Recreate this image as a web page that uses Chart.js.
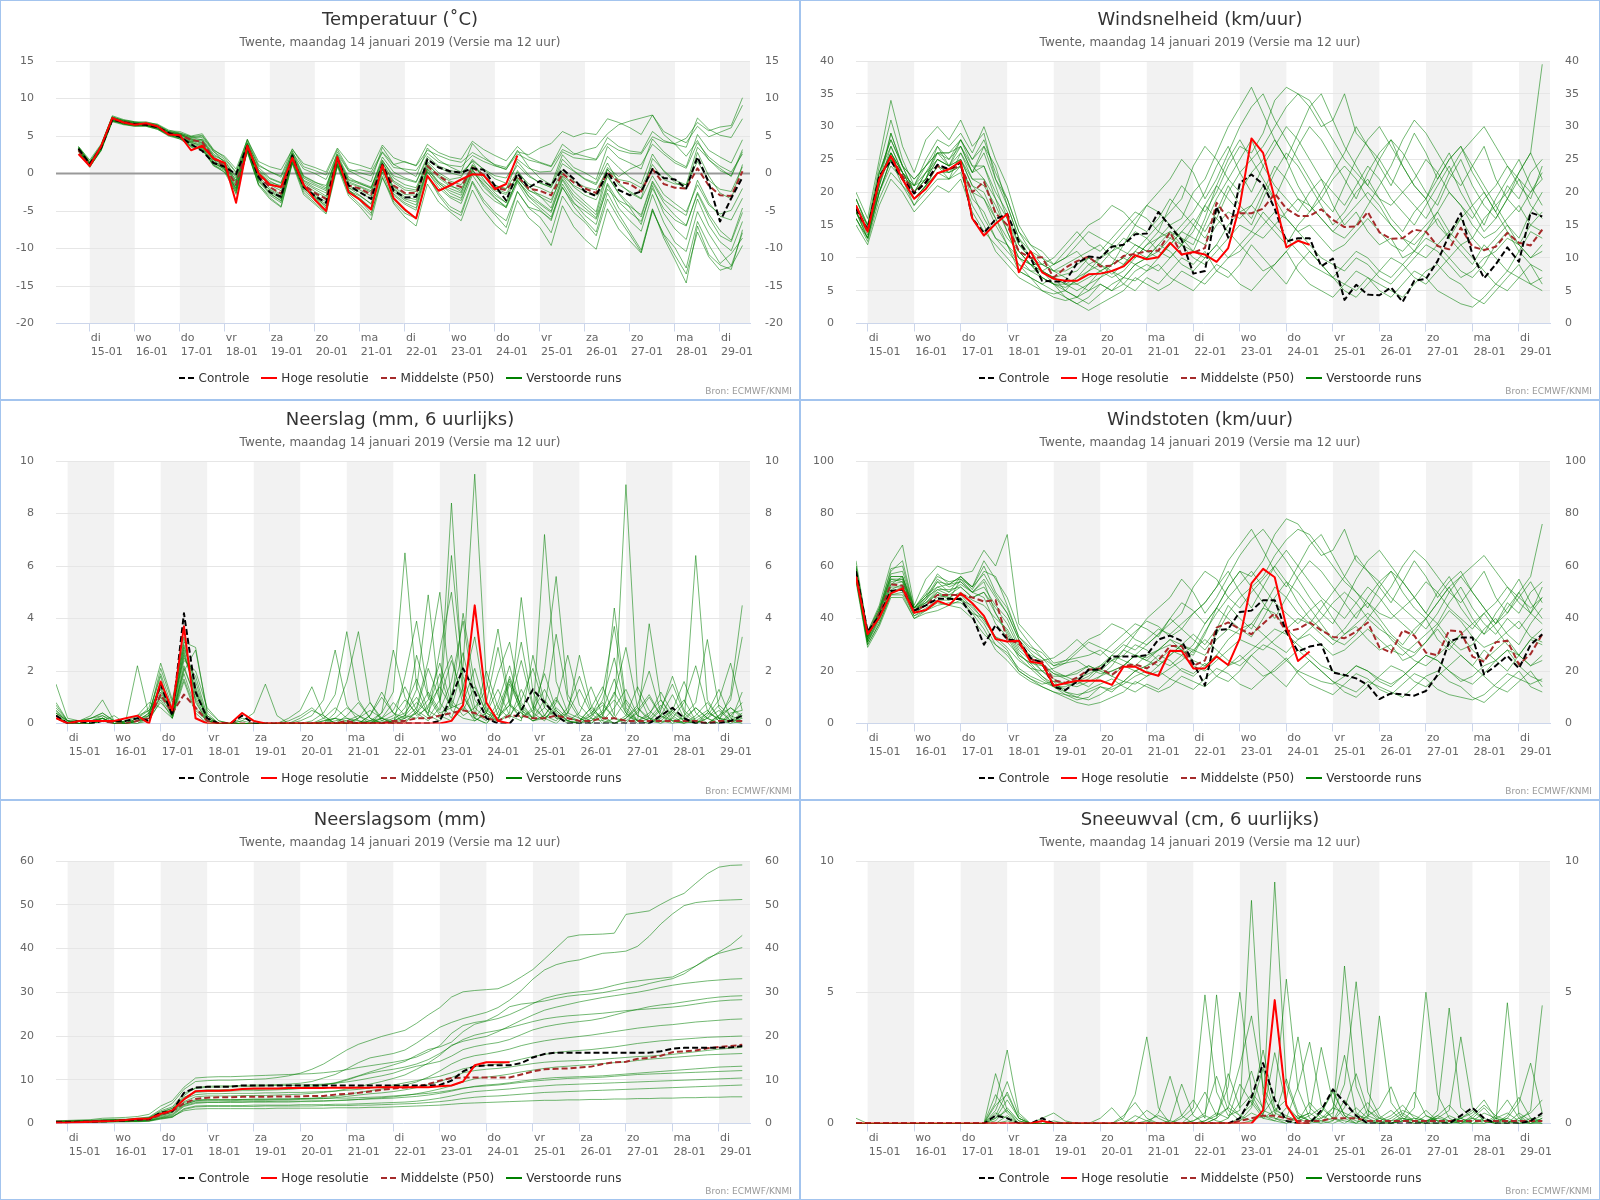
<!DOCTYPE html>
<html>
<head>
<meta charset="utf-8">
<title>Pluim Twente</title>
<script src="https://cdn.jsdelivr.net/npm/chart.js@4.4.1/dist/chart.umd.min.js"></script>
<style>
  body { margin: 0; background: #fff; font-family: "DejaVu Sans", Verdana, sans-serif; }
  #grid { position: relative; width: 1600px; height: 1200px; }
  .panel { position: absolute; width: 800px; height: 400px; box-sizing: border-box; border: 1px solid #a3c4ee; background: #fff; }
  .panel canvas { position: absolute; left: 0; top: 0; }
  .title { position: absolute; left: 0; right: 0; top: 7px; text-align: center; font-size: 18px; line-height: 21px; color: #333; }
  .sub { position: absolute; left: 0; right: 0; top: 34px; text-align: center; font-size: 12px; line-height: 14px; color: #666; }
  .legend { position: absolute; left: 0; right: 0; top: 370px; display: flex; justify-content: center; font-size: 12px; line-height: 14px; color: #333; }
  .legend span { display: inline-flex; align-items: center; margin: 0 6px; }
  .legend svg { margin-right: 4px; }
  .credit { position: absolute; right: 7px; top: 385px; font-size: 9px; line-height: 11px; color: #999; }
  #dbg { position: absolute; left: 0; top: 0; color: red; font-size: 14px; z-index: 9; }
</style>
</head>
<body>
<div id="grid"></div>
<div id="dbg"></div>
<script>
// forecast steps (hours after ma 14-01 12 uur)
const steps = [6,12,18,24,30,36,42,48,54,60,66,72,78,84,90,96,102,108,114,120,
  126,132,138,144,150,156,162,168,174,180,186,192,198,204,210,216,222,228,234,240,
  246,252,258,264,270,276,282,288,294,300,306,312,318,324,330,336,342,348,354,360];
const tickSteps = [12,36,60,84,108,132,156,180,204,228,252,276,300,324,348];
const dayNames = ['di','wo','do','vr','za','zo','ma','di','wo','do','vr','za','zo','ma','di'];
const dayDates = ['15-01','16-01','17-01','18-01','19-01','20-01','21-01','22-01','23-01','24-01','25-01','26-01','27-01','28-01','29-01'];
const bandStarts = [12,60,108,156,204,252,300,348];

// ---------- Temperatuur ----------
const tempControl = [3.3,1.3,3.4,7.2,6.8,6.6,6.5,6.2,5.4,4.9, 3.9,3.0,1.4,0.9,-0.1,3.7,-0.5,-2.5,-3.1,2.4,
  -1.8,-3.0,-3.9,2.0,-1.6,-2.5,-3.4,1.2,-2.3,-3.2, -3.1,1.9,0.8,0.3,0.1,0.7,0.5,-1.6,-3.6,0.0,
  -1.9,-1.0,-1.6,0.6,-0.7,-2.4,-3.0,0.2,-2.2,-2.9, -2.4,0.6,-0.6,-0.8,-2.0,2.2,-1.2,-6.4,-3.3,-0.5];
const tempHres = [2.6,1.0,3.6,7.4,6.8,6.5,6.7,6.3,5.2,5.1, 3.1,3.7,2.0,1.4,-3.9,3.7,0,-1.5,-1.8,2.1,
  -1.5,-3.5,-5.0,2.2,-2.5,-3.5,-4.8,1.1,-3.3,-4.8, -6.0,-0.3,-2.3,-1.6,-0.8,-0.1,-0.2,-2.1,-1.4,2.4];
const tempMedian = [3.1,1.2,3.5,7.2,6.9,6.6,6.5,6.2,5.4,5.1, 4.5,4.2,2.0,0.9,-1.5,3.6,-0.3,-1.8,-2.7,2.0,
  -1.5,-2.6,-3.4,1.9,-1.6,-2.0,-2.8,1.1,-1.6,-2.6, -2.6,1.0,-0.3,-1.3,-1.8,0.8,-0.2,-1.9,-2.2,-0.3,
  -2.0,-2.3,-2.9,0.0,-1.2,-2.0,-2.6,0.1,-1.1,-1.4, -2.4,0.6,-1.4,-1.9,-2.0,0.7,-1.6,-2.9,-3.0,0.3];
const tempMembers = [
  [3.6,1.8,3.9,7.6,7.0,6.8,6.9,6.5,5.7,5.6,5.0,5.3,3.2,2.1, 0.2,4.1,1.0,0.3,-0.5,2.8,0.6,0.0,-0.8,2.6,0.3,0.5,0.2,2.9,1.2,1.6,
   1.0,3.1,2.4,1.8,1.5,2.8,2.0,1.2,0.8,2.9,2.5,3.4,4.0,5.6,4.9, 5.4,5.2,7.3,6.8,6.1,5.2,7.8,5.6,4.8,4.1,6.3,4.9,5.5,6.1,9.1],
  [3.0,0.8,3.2,7.0,6.6,6.4,6.3,5.9,5.0,4.6,3.6,3.4,1.2,0.1, -2.6,3.0,-1.4,-3.2,-4.4,1.6,-2.5,-3.9,-5.2,1.2,-2.7,-4.1,-5.6,0.2,-3.8,-5.3,
   -6.0,-0.5,-2.6,-4.4,-5.2,-1.0,-3.5,-5.2,-6.3,-2.4,-4.6,-5.8,-7.9,-3.0,-5.2, -6.5,-8.3,-3.4,-6.0,-8.2,-10.5,-5.0,-8.1,-9.9,-12.6,-6.4,-9.5,-12.0,-10.7,-8.6],
  [3.4,1.1,3.6,7.3,6.9,6.5,6.6,6.3,5.5,5.3,4.6,4.0,1.8,1.3, -1.0,3.9,0.2,-1.2,-1.6,2.5,-0.9,-1.6,-2.3,2.4,-0.8,-1.2,-1.8,1.8,-0.6,-1.5,
   -1.9,1.6,0.1,-0.8,-0.5,1.9,0.5,-0.7,-1.3,1.1,-0.4,-1.2,-1.9,1.3,0.3, -0.8,-1.5,1.4,-1.2,-2.6,-3.4,-0.3,-2.8,-4.0,-5.1,-1.5,-4.2,-5.4,-4.9,-2.0],
  [2.9,0.9,3.0,6.9,6.5,6.3,6.4,6.0,5.1,4.8,4.2,4.6,2.6,1.6, -0.6,4.4,0.8,-0.6,-1.2,3.0,-0.3,-1.1,-1.9,2.9,0.4,-0.4,-1.1,3.5,1.2,0.4,
   -0.4,3.4,1.8,0.9,0.2,4.0,2.3,1.1,0.5,3.1,0.9,-0.6,-1.5,2.5,0.8, 0.1,-0.8,3.6,2.1,1.4,0.6,4.6,2.9,1.7,0.9,5.2,3.1,2.2,1.4,4.5],
  [3.2,1.3,3.3,7.1,6.7,6.7,6.4,6.1,5.3,4.9,3.5,3.2,1.0,0.2, -2.0,3.2,-1.0,-2.6,-3.7,1.8,-2.0,-3.3,-4.6,1.2,-2.4,-3.3,-4.6,0.7,-2.9,-4.1,
   -4.9,0.2,-1.5,-3.0,-3.6,0.4,-1.5,-3.2,-4.6,-1.2,-3.6,-4.8,-6.3,-1.8,-4.4, -6.2,-7.8,-2.6,-5.4,-7.8,-10.2,-4.7,-8.6,-11.5,-14.6,-7.0,-10.8,-12.2,-12.8,-7.5],
  [3.5,1.5,3.8,7.5,7.1,6.9,6.8,6.6,5.8,5.4,4.9,4.8,2.9,1.9, 0.1,4.6,1.2,0.2,-0.3,3.3,0.9,0.4,-0.2,3.2,0.6,0.1,-0.3,2.8,0.8,0.6,
   0.4,2.7,1.5,1.1,0.9,2.4,1.6,1.0,0.6,2.6,1.8,1.4,0.9,3.2,2.5, 3.1,3.5,5.3,6.5,7.0,7.4,7.8,5.2,3.9,2.3,4.4,1.8,0.7,-0.4,2.9],
  [3.0,1.0,3.4,7.4,6.8,6.5,6.7,6.3,5.2,5.0,4.0,3.5,1.5,0.5, -1.9,3.4,-0.8,-2.1,-3.0,2.2,-1.6,-2.8,-3.8,1.6,-1.9,-2.9,-4.1,0.6,-2.4,-3.6,
   -4.2,0.3,-1.9,-3.2,-4.0,-0.2,-2.4,-3.7,-4.5,-0.6,-2.2,-3.1,-3.9,0.2,-1.8, -2.9,-3.5,-0.4,-2.6,-4.1,-5.8,-1.2,-3.9,-5.6,-6.9,-2.7,-5.8,-8.3,-9.1,-5.2],
  [3.3,1.2,3.5,7.2,6.9,6.6,6.5,6.2,5.4,5.2,4.4,4.3,2.2,1.1, -1.3,3.7,-0.1,-1.5,-2.3,2.1,-1.2,-2.1,-3.0,2.0,-1.3,-1.8,-2.5,1.4,-1.2,-2.2,
   -2.4,1.2,-0.2,-1.0,-1.5,1.1,-0.1,-1.6,-2.0,0.2,-1.4,-1.9,-2.6,0.5,-1.0, -1.8,-2.2,0.5,-0.8,-1.1,-1.9,1.2,-0.8,-1.4,-1.5,1.6,-0.9,-2.1,-2.4,0.9],
  [3.1,1.1,3.4,7.0,6.8,6.5,6.4,6.1,5.3,4.8,3.8,3.1,1.3,0.6, -1.7,3.3,-0.6,-2.2,-3.3,1.5,-1.9,-3.1,-4.4,1.0,-2.1,-3.6,-5.3,-0.6,-3.5,-5.0,
   -5.9,-0.3,-2.9,-4.8,-5.6,-1.2,-3.9,-5.5,-7.2,-2.4,-4.5,-5.0,-6.1,-1.4,-3.8, -5.6,-6.8,-1.5,-4.6,-6.3,-7.7,-2.8,-6.5,-9.2,-10.4,-5.1,-8.0,-10.3,-12.3,-7.9],
  [3.6,1.6,3.7,7.7,7.2,6.9,6.6,6.4,5.6,5.3,4.7,5.0,3.0,1.4, -0.9,4.1,0.4,-1.0,-1.8,2.6,-0.6,-1.4,-2.1,2.5,-0.5,-1.3,-2.0,2.2,0.2,-0.6,
   -1.1,2.3,1.0,0.4,0.1,1.6,-0.8,-2.6,-3.9,0.4,-1.7,-3.0,-4.6,-0.4,-2.4, -3.8,-5.1,0.6,-1.5,-2.4,-3.3,2.0,0.4,-0.9,-1.5,3.5,1.9,0.4,-0.3,3.2],
  [3.2,1.0,3.1,7.3,6.6,6.4,6.3,5.9,5.2,4.6,4.1,3.8,1.8,0.6, -2.3,3.0,-1.1,-2.7,-3.6,1.9,-1.7,-3.0,-4.1,1.7,-1.9,-2.5,-3.4,0.9,-2.0,-3.1,
   -3.5,0.6,-1.3,-2.3,-2.9,0.4,-1.0,-2.3,-2.8,-0.9,-3.1,-4.5,-5.8,-1.9,-4.0, -5.0,-6.1,-2.1,-3.6,-4.4,-5.5,-1.0,-3.5,-4.6,-5.6,-0.9,-3.9,-5.7,-6.2,-3.3],
  [3.4,1.4,3.6,7.4,7.0,6.7,6.6,6.3,5.6,5.2,4.8,4.5,2.4,1.7, -0.4,3.9,0.5,-0.7,-1.3,2.7,-0.4,-1.2,-1.6,2.2,-0.9,-1.4,-1.9,1.7,-0.3,-0.8,
   -1.2,2.0,0.8,0.1,-0.3,1.7,0.6,-0.3,-0.6,1.9,0.7,0.2,0.3,2.9,2.1, 1.9,1.8,4.0,3.1,2.7,2.6,4.9,4.2,4.0,4.7,6.8,5.7,6.2,6.4,10.1],
  [3.2,1.2,3.3,7.1,6.8,6.6,6.4,6.1,5.3,5.0,4.3,3.9,1.6,0.8, -2.8,3.1,-1.6,-3.4,-4.5,1.3,-2.8,-4.1,-5.4,0.9,-3.0,-4.4,-6.2,-0.4,-4.0,-5.8,
   -7.0,-1.4,-3.8,-5.1,-6.3,-2.2,-4.9,-6.8,-8.1,-3.6,-5.9,-7.2,-9.6,-4.3,-7.1, -8.8,-10.1,-4.7,-7.4,-9.0,-10.6,-4.8,-8.2,-10.9,-13.4,-7.8,-11.1,-12.9,-12.4,-9.6],
  [3.5,1.4,3.7,7.5,7.1,6.8,6.7,6.5,5.6,5.4,4.9,5.1,3.1,2.3, 0.6,4.5,1.6,0.9,0.5,3.2,1.3,0.8,0.2,3.4,1.5,1.1,0.6,3.8,2.1,1.5,
   1.1,3.9,2.8,2.2,1.9,4.3,3.2,2.4,1.7,3.6,2.2,1.5,1.0,3.9,2.7, 2.3,1.9,4.8,3.6,3.0,2.8,5.6,4.4,3.9,3.5,7.4,5.9,5.1,4.8,7.3],
  [3.0,0.9,3.1,7.0,6.6,6.3,6.4,6.0,5.1,4.7,3.7,3.3,1.1,0.4, -2.4,2.8,-1.5,-2.9,-3.9,1.4,-2.2,-3.6,-4.8,1.3,-2.2,-3.4,-4.7,0.5,-2.7,-3.9,
   -4.6,0.8,-1.1,-2.0,-2.6,1.2,-0.4,-1.6,-2.1,1.6,-0.2,-1.3,-1.8,1.9,0.4, -0.7,-1.3,2.3,0.8,-0.5,-1.4,2.6,0.3,-1.2,-2.0,2.8,-0.3,-2.6,-3.4,1.2],
  [3.3,1.3,3.5,7.3,6.9,6.7,6.6,6.2,5.4,5.2,4.6,4.4,2.3,1.2, -1.2,3.8,0.1,-1.3,-2.0,2.3,-1.0,-1.9,-2.6,2.1,-1.1,-1.7,-2.3,1.5,-1.0,-1.9,
   -2.2,1.4,-0.4,-1.5,-2.4,0.6,-1.8,-3.3,-4.4,-0.8,-3.0,-4.1,-5.2,-0.9,-3.3, -4.6,-5.9,-1.3,-3.8,-5.2,-6.4,-2.0,-4.7,-6.2,-7.0,-2.5,-5.4,-7.6,-8.9,-4.6],
  [3.4,1.2,3.6,7.2,7.0,6.6,6.5,6.3,5.5,5.1,4.5,4.1,1.9,1.0, -1.6,3.5,-0.4,-1.9,-2.8,1.9,-1.4,-2.4,-3.2,1.8,-1.7,-2.2,-3.0,1.0,-1.8,-2.8,
   -2.9,0.9,-0.6,-1.7,-2.1,0.9,-0.3,-2.0,-2.6,-0.5,-2.3,-2.8,-3.5,-0.3,-1.6, -2.4,-2.9,0.8,-0.4,0.6,1.2,3.9,2.6,1.4,0.7,4.1,2.2,1.0,0.2,2.6],
  [3.1,1.0,3.3,7.1,6.7,6.5,6.5,6.1,5.3,4.9,4.2,3.6,1.4,0.7, -2.1,3.3,-0.9,-2.4,-3.4,2.0,-1.9,-3.2,-4.3,1.4,-2.3,-3.0,-4.0,0.8,-2.1,-3.4,
   -3.8,0.5,-1.2,-2.6,-3.3,0.1,-1.3,-2.9,-3.9,-1.0,-2.6,-3.9,-5.0,-0.7,-2.9, -4.2,-5.5,-0.2,-2.7,-4.6,-6.8,-1.6,-5.3,-7.4,-8.8,-3.4,-6.9,-9.1,-10.3,-6.4]
];

// ---------- Windsnelheid ----------
const windControl = [17.5,14.3,22.5,24.8,22,19.8,21.5,24.2,23.5,24.5, 16,13.8,15.9,16.7,12.5,10,6.5,6.4,6.4,9.2,
  10.2,10,11.7,12,13.6,13.7,17,14.8,12.7,7.6, 8,17.8,13.1,21.4,22.7,21.2,17.5,12.5,13,13,
  8.7,9.9,3.6,5.9,4.4,4.3,5.5,3.3,6.5,6.8, 9.5,13.5,16.8,10.5,6.9,9,11.6,9.4,16.9,16.3];
const windHres = [18,14,22,25.5,22,19,20.5,22.9,23.5,24.7, 16,13.4,15.2,16.7,7.8,11.0,7.8,6.8,6.5,6.5,
  7.5,7.6,8.0,8.7,10.4,9.8,10.1,12.3,10.5,10.9, 10.5,9.4,11.5,18,28.2,26,19,11.6,12.6,12.0];
const windMedian = [17.5,14,22,25.5,22.5,20,21.5,24,23.5,24, 20,21.6,16.8,15,11,10,10.1,7,8.5,9.5,
  10.2,8.7,8.8,10.3,10.6,11,11.1,13.9,10.5,10.8, 11.5,18.4,16,16.8,16.8,17.5,19.8,17.5,16.4,16.4,
  17.4,15.8,14.7,14.8,17,13.9,12.9,13,14.3,14, 11.8,11.3,14.6,11.7,11.2,11.7,13.8,12.3,11.9,14.3];
const windMembers = [
  [17,13.5,21,27,23,20,22,25,24,26,22,21,18,14, 10,8,7,6,5.5,6.5,8,9,7.5,9,11,10,12,14,12,11,
   15,19,22,25,28,24,21,19,17,20,22,18,15,17,14, 12,13,10,11,14,16,13,11,9,12,10,8,11,14,13],
  [19,15,24,31,25,21,25,28,27,29,26,30,25,21, 15,12,10,8,7,6,5,7,9,12,15,18,20,22,25,23,
   19,22,26,30,33,35,31,28,25,22,19,17,21,25,28, 30,27,24,21,19,23,26,22,18,15,19,22,25,21,18],
  [16,12.5,19,23,21,18,20,22,22,23,18,15,11,9, 7,6,5,4.5,5,4,3,4.5,6,7,6.5,8,9,7,6,5,
   7,9,8,6,5,7,9,11,8,6,5,4,6,8,7, 5,4,6,8,7,5,4,3,2.5,4,6,8,7,6,7],
  [18,14,23,28,24,22,24,27,25,28,24,24,20,17, 12,10,9,10,12,14,12,11,13,15,17,16,14,18,21,19,
   17,20,24,27,26,29,34,36,35,33,30,31,35,29,27, 24,21,25,29,26,22,25,27,23,20,17,21,19,23,25],
  [17,14,20,25,22,19,21,23,23,24,19,17,13,11, 9,8,8,9,10,11,9,8,9,10,12,11,13,14,13,11,
   10,12,15,17,18,16,14,12,15,17,19,22,24,22,19, 17,15,13,12,14,17,20,18,15,13,14,16,18,15,14],
  [20,16,25,34,27,23,28,30,28,31,27,29,22,19, 14,11,9,8,9,10,11,12,10,9,11,13,15,17,19,24,
   27,25,22,20,23,25,28,25,21,18,16,14,13,15,18, 21,24,28,31,29,26,23,21,24,27,22,19,23,26,39.5],
  [15,12,18,22,20,17,19,21,20,22,17,14,12,10, 8,7,6,7,5,4,6,7,8,6,5,7,6,8,10,9,
   11,8,7,9,12,10,8,6,9,11,9,7,5,4,6, 8,10,9,7,6,8,10,12,10,8,6,5,7,9,6],
  [18,15,22,26,23,20,23,25,24,25,21,19,16,13, 11,9,8,7,7.5,8,10,9,11,12,14,13,11,10,12,14,
   18,21,19,17,15,19,23,26,24,21,18,15,17,20,22, 19,16,14,17,19,15,13,16,18,20,17,14,12,15,17],
  [16,13,21,29,24,20,22,26,24,27,23,27,24,18, 13,11,10,9,11,13,15,16,18,17,15,14,16,19,17,15,
   13,16,20,23,25,27,30,33,35,34,31,28,25,23,21, 19,18,20,22,25,23,20,18,16,19,21,24,22,20,22],
  [19,14.5,22,26,22,21,23,24,23,24,20,16,13,12, 10,9,9,8,8,9,10,9,8,7,9,10,12,11,9,8,
   10,12,10,11,13,15,17,16,14,12,10,9,8,10,9, 7,6,8,10,12,11,9,7,8,10,11,13,12,10,11],
  [17,13,20,24,22,19,21,24,22,26,23,24,19,16, 12,10,8,6,4,3,4,6,5,7,9,8,10,12,14,16,
   14,17,21,18,16,20,24,22,19,17,20,23,26,30,27, 25,22,20,18,16,19,23,26,28,30,27,24,21,19,24],
  [18,14,23,27,23,21,24,26,26,27,24,22,17,15, 11,9,7,6,6,7,8,10,11,13,12,11,10,12,14,13,
   12,15,17,16,18,21,19,16,14,15,13,11,12,14,16, 14,12,11,13,15,17,14,12,13,16,18,15,13,17,20],
  [18,14,22,29,24,20,23,26,25,27,23,26,21,16, 11,9,8,7,6,5,6,8,7,8,10,12,14,13,15,17,
   20,24,27,23,20,24,27,30,28,25,22,20,18,21,24, 22,19,17,15,18,21,24,20,17,14,16,19,22,18,16],
  [16,13,20,25,22,18,21,24,23,25,21,20,16,12, 9,7,5,4,3.5,4,5,6,5,6,8,9,8,10,12,15,
   18,16,14,12,14,17,15,13,11,9,8,7,9,11,10, 8,7,9,11,13,12,10,8,7,9,12,14,11,9,8],
  [17,14,21,26,23,21,22,27,24,28,25,28,23,19, 14,12,11,9,10,12,14,13,12,14,16,18,17,15,16,20,
   22,26,30,33,36,32,28,25,29,33,35,31,27,24,21, 25,28,26,23,20,18,22,25,21,18,16,19,17,20,23],
  [19,15,23,28,24,22,24,26,26,28,25,27,22,18, 13,10,8,7,6,6,7,8,9,10,9,10,11,13,12,10,
   9,11,13,15,14,13,15,17,19,18,16,14,16,18,20, 18,15,13,11,10,12,14,16,13,11,13,15,12,10,12],
  [18,14,22,26,23,20,22,25,24,25,22,22,19,14, 10,9,7,6,5,7,9,10,12,11,10,12,13,15,13,12,
   16,21,25,28,25,22,19,23,27,30,28,25,22,19,23, 26,28,24,21,19,22,25,27,24,21,18,20,23,26,22],
  [17,13,20,25,21,19,21,23,22,24,20,19,15,12, 8,7,6,5,4,3,2,3,4,5,7,6,5,6,8,7,
   6,8,10,12,10,8,9,11,13,11,9,7,6,5,7, 6,5,4,6,8,9,7,6,4,3,5,7,9,6,5]
];

// ---------- Neerslag (6 uurlijks) ----------
const rainControl = [0.3,0,0.1,0,0.1,0.1,0.1,0.2,0.1,1.5, 0.3,4.2,1.2,0.2,0,0,0.3,0,0,0,
  0,0,0,0,0,0,0,0,0,0, 0,0,0,0.1,1.0,2.1,1.2,0.2,0,0,
  0.5,1.3,0.8,0.3,0,0,0,0,0,0, 0,0,0.3,0.6,0.2,0,0,0,0.1,0.3];
const rainHres = [0.2,0,0.1,0.1,0.1,0.1,0.2,0.3,0,1.6, 0.5,3.7,0.2,0,0,0,0.4,0.1,0,0,
  0,0,0,0,0,0,0,0,0,0, 0,0,0,0,0.1,0.7,4.5,0.8,0.1,0];
const rainMedian = [0.3,0,0,0.1,0.1,0,0,0.1,0.2,1.1, 0.4,1.1,0.6,0.1,0,0,0,0,0,0,
  0,0,0,0,0,0.1,0,0,0,0.1, 0.1,0.2,0.2,0.3,0.4,0.5,0.4,0.2,0.1,0.3,
  0.3,0.2,0.2,0.3,0.2,0.1,0.1,0.2,0.2,0.1, 0.1,0.1,0.1,0.1,0.1,0.1,0,0.1,0.1,0.1];
const rainMembers = [
  [1.5,0.2,0.1,0.3,0.9,0.1,0,0.2,0.5,1.2,0.4,3.3,0.8,0.1, 0,0,0.1,0,0,0,0,0,0,0.1,0.2,0,0,0.3,1.2,0.4,
   0,0.5,2.1,0.9,8.4,1.3,0.2,0,0.4,1.6,0.7,0.2,0.9,0.3,0, 0.1,0.4,0.8,0.2,0,0.5,1.1,0.3,0,0.1,0.6,0.2,0,0.3,0.8],
  [0.3,0,0,0.1,0.2,0,0.1,0,0.3,2.1,0.8,2.9,1.6,0.2, 0,0,0,0,0,0,0.2,0.5,1.4,0.3,0,0,0.2,0.8,0.1,0,
   1.8,3.9,1.1,0.4,0.6,2.2,9.5,1.6,0.3,0.7,2.4,0.6,0.2,0,0.4, 1.3,0.4,0,0.2,0.9,0.3,0.1,0.6,1.5,0.4,0,0.2,0.7,0.3,0.1],
  [0.6,0.1,0,0,0.1,0.3,0,0.1,0.2,1.4,0.3,2.4,2.0,0.6, 0.1,0,0,0,0,0,0,0,0.1,0.4,1.1,3.5,0.9,0.2,0,0.1,
   0.3,0.8,0.4,1.5,2.6,0.7,0.1,0.4,1.9,3.1,0.8,0.2,7.2,1.6,0.4, 0.2,0,0.3,1.2,0.4,0.1,0,0.2,0.5,0.1,0,0.3,0.9,2.3,0.5],
  [0.2,0,0.1,0.2,0.4,0.1,0,0.3,0.8,0.6,0.2,1.6,0.4,0, 0,0,0.1,0.4,1.5,0.3,0,0,0,0,0.2,0.6,0.3,0,0.4,1.2,
   6.5,1.4,0.3,2.8,5.0,1.1,0.2,0,0.6,1.7,0.4,0.1,0.3,1.0,0.2, 0.1,0.6,1.4,0.3,9.1,1.2,0.2,0,0.4,0.9,0.1,0,0.2,0.6,0.3],
  [0.4,0.1,0,0,0.2,0,0.1,2.2,0.3,1.0,0.6,2.7,1.1,0.3, 0,0,0,0,0,0,0,0.1,0.3,0.9,2.8,0.7,0.1,0,0.2,0.8,
   0.3,1.3,4.9,0.8,0.2,1.4,3.3,0.6,0.1,0.4,4.8,1.2,0.3,0.1,0.6, 1.8,0.5,0.2,4.4,0.8,0.1,0,0.3,1.1,0.2,0,0.4,1.3,0.2,0],
  [0.3,0,0,0.1,0.1,0,0,0.1,0.4,1.8,0.2,1.9,0.6,0.1, 0,0,0,0,0,0,0,0,0,0,0.4,1.6,3.5,0.8,0.2,0,
   0.1,0.4,1.2,0.5,1.6,3.9,0.9,0.3,0.1,1.8,0.6,0.2,2.1,5.6,1.1, 0.3,0.1,0.5,1.7,0.4,0,0.2,0.7,0.1,0,6.4,0.9,0.2,0.1,0.4],
  [0.8,0.1,0.1,0.2,0.3,0.1,0,0.2,0.6,2.3,0.9,3.1,2.9,0.4, 0,0,0,0,0,0,0,0,0,0.1,0.2,0.1,0,0.3,1.0,0.4,
   0.2,2.6,1.0,0.3,0.1,0.6,0.2,0.8,2.9,0.7,0.2,0.5,1.3,0.4,0.1, 0,0.3,1.2,3.7,0.6,0.1,0.4,0.9,0.3,0,0.2,0.5,0.1,1.1,4.5],
  [0.5,0,0,0.1,0.2,0,0,0.1,0.2,1.1,0.4,2.6,1.3,0.1, 0,0,0,0,0,0,0,0,0,0.2,0.6,0.2,0,0,0.1,0.3,
   0.9,0.4,0.1,0.6,6.4,1.8,0.4,0.1,0.8,2.2,0.5,0.1,0.3,0.9,0.3, 0.1,0.6,0.2,0,0.3,1.4,0.5,0.1,0,0.3,0.8,3.2,0.6,0.1,0.2],
  [0.2,0,0,0,0.1,0,0,0,0.1,0.9,0.2,2.2,0.9,0, 0,0,0,0,0,0,0,0,0,0,0,0.1,0.3,0.1,0,0.2,
   0.4,1.0,0.3,0.1,0.8,4.2,1.5,0.4,0.2,0.9,3.1,0.7,0.2,0.5,0.1, 0,0.2,0.9,2.5,0.5,0.1,3.8,0.9,0.2,0,0.1,0.4,0.2,0,0.1],
  [0.4,0.1,0,0,0.1,0.1,0,0.1,0.3,1.6,0.5,3.0,1.4,0.2, 0,0,0,0,0,0,0,0.2,0.5,0.3,0,0,0,0.1,0.4,2.8,
   1.0,0.3,0.6,1.9,0.5,0.2,0.1,0.4,1.3,0.3,0.1,2.6,0.8,0.2,0.4, 2.6,0.7,0.1,0,0.2,0.6,0.2,0.1,0.5,1.6,0.4,0,0.3,0.9,3.3],
  [0.7,0.1,0.1,0.1,0.3,0,0.1,0.3,0.5,1.3,0.3,2.0,2.8,0.5, 0.1,0,0,0,0,0,0,0,0,0,0,0,0.2,0.5,0.2,0,
   0.2,0.6,2.4,5.0,0.9,0.3,0.6,0.2,0.1,1.5,0.5,0.2,0.6,3.4,0.9, 0.2,0,0.4,1.1,2.9,0.6,0.1,0,0.2,0.8,2.2,0.5,0.1,0,0.3],
  [0.3,0,0,0,0.2,0,0,0,0.2,0.8,0.3,1.7,0.5,0.1, 0,0,0,0,0,0,0,0,0,0,0.1,0.2,0.1,0,0,0.1,
   0.3,0.2,0.7,1.4,0.6,0.8,2.1,0.5,0.2,0.7,0.4,0.1,0.2,0.6,0.2, 0.1,0.3,0.7,0.2,0.1,0.4,1.0,0.3,0.1,0.2,0.6,0.2,0,0.4,0.5],
  [0.5,0.1,0,0.2,0.4,0.1,0,0.1,0.4,1.9,0.6,2.5,1.8,0.3, 0,0,0.2,0.1,0,0,0,0,0,0,0,0.3,0.8,0.2,0,0.1,
   0.6,1.7,0.5,0.2,1.1,2.7,0.6,1.3,3.6,0.8,0.2,0.6,1.9,0.5,0.1, 0.4,1.4,0.3,0,0.2,0.7,2.0,0.4,0.1,0,0.3,0.8,0.2,0.1,1.2],
  [0.2,0,0,0,0.1,0,0,0.1,0.2,1.0,0.3,2.1,1.0,0.1, 0,0,0,0,0,0,0,0,0,0,0,0,0,0.1,0.2,0.1,
   0.2,0.4,0.9,2.3,0.7,0.5,1.4,0.4,0.1,0.3,0.9,2.1,0.6,0.2,0.1, 0,0.1,0.4,0.9,0.3,0.1,0.3,1.2,0.4,0.1,0,0.2,0.5,0.1,0],
  [0.4,0,0.1,0.1,0.2,0,0,0.2,0.3,1.5,0.4,2.8,1.2,0.2, 0,0,0,0,0,0,0.1,0.3,0.6,0.2,0,0,0,0,0.2,0.5,
   1.4,0.5,0.2,0.9,2.4,1.0,0.3,2.0,0.6,0.2,1.3,0.4,0.1,0.8,2.6, 0.7,0.2,0.1,0.6,1.3,0.3,0.1,0.5,1.8,0.5,0.1,0,0.3,0.6,0.2]
];

// ---------- Windstoten ----------
const gustControl = [58,35,41,50.5,51,43,45,47.5,47.5,47.4, 41,30,37.5,32,31.5,25,23,14,12.7,16,
  20.5,20.5,25.5,25.5,25.5,26,32,33.5,31.5,23, 14.5,35.5,36,42.5,43,47,47,35,27.4,29.3,
  30.2,19.4,18.5,17.2,14.7,9.3,11.5,11.1,10.6,12.4, 18.5,31.2,32.8,32.8,18.7,22,25.8,21,30,34];
const gustHres = [56,34,40.3,49.6,51.5,42.2,43.2,46.7,45.1,49.6, 45.8,41,32.2,31.2,31.5,23.5,22.9,14.4,15.3,16.3,
  16.3,16.4,14.7,21.6,21.7,19.4,18.2,27.7,27.6,21, 21,25.5,22.3,32.4,53.4,58.9,55.7,36.9,23.8,27.4];
const gustMedian = [57,34,42,53,52.5,43,45,49,49,49, 48,46.5,47,32,30.5,24.5,23.5,16.5,15.5,17.5,
  20.5,21,18.5,22,22.5,21,24,29.5,29.5,22, 24,36.5,38.5,36,34,38,42,35,36,38.5,
  35.5,33,32.5,35,38.5,29,27,35.5,33.5,27, 26,35.5,35,25.5,23.5,31,31.5,22.5,26.5,34];
const gustMembers = [
  [57,32,40,53,56,43,46,50,48,50,47,45,40,36, 28,24,20,16,15,17,19,21,18,22,26,24,28,32,30,27,
   35,42,48,53,58,52,46,42,38,43,47,40,34,37,32, 28,30,24,26,31,36,30,26,22,28,24,20,26,32,30],
  [60,34,44,58,62,44,50,56,54,55,52,62,55,48, 36,30,25,20,18,16,14,18,22,28,34,40,44,48,55,50,
   42,48,56,64,70,74,68,62,55,48,42,38,46,55,62, 66,60,54,48,42,50,56,48,40,34,42,48,55,46,40],
  [55,30,38,49,50,41,43,45,46,46,42,36,28,24, 19,16,14,12,11,10,9,11,14,16,15,18,20,17,15,13,
   17,21,19,15,13,17,21,25,19,15,13,11,15,19,17, 13,11,15,19,17,13,11,10,9,11,15,19,17,15,17],
  [58,33,42,55,54,43,47,52,50,53,50,52,45,40, 30,26,24,25,28,32,28,26,30,34,38,36,33,40,46,43,
   38,44,52,58,56,62,72,78,76,70,64,66,74,62,58, 52,46,54,62,56,48,54,58,50,44,38,46,42,50,54],
  [56,31,41,51,53,42,45,48,49,49,44,40,33,29, 24,21,20,21,23,24,21,19,20,22,26,25,28,30,28,24,
   22,26,32,36,38,34,30,27,32,36,40,46,50,46,40, 36,33,29,27,31,37,43,39,33,29,31,35,39,33,31],
  [62,35,45,61,68,45,55,60,58,57,58,66,60,72, 38,33,28,23,24,25,26,28,24,22,26,30,34,38,42,52,
   58,55,48,44,50,55,60,54,46,40,36,32,30,34,40, 46,52,60,66,62,56,50,46,52,58,48,42,50,56,76],
  [54,29,37,48,48,40,42,43,45,44,40,34,30,26, 20,17,15,16,12,10,13,15,17,14,12,15,13,17,21,19,
   23,18,16,20,26,22,18,14,20,24,20,16,12,10,14, 18,22,20,16,14,18,22,26,22,18,14,12,16,20,14],
  [58,33,42,54,55,43,48,51,51,52,48,50,44,38, 29,25,22,18,18,19,22,20,24,26,30,28,24,22,26,30,
   38,44,40,36,33,40,48,54,50,44,38,32,36,42,46, 40,34,30,36,40,32,28,34,38,42,36,30,26,32,36],
  [57,32,43,59,60,44,49,57,53,56,51,58,56,45, 33,28,25,22,24,28,32,34,38,36,32,30,34,40,36,32,
   28,34,42,48,52,56,64,70,74,72,66,60,54,50,46, 42,40,44,48,54,50,44,40,36,42,46,52,48,44,48],
  [59,33,41,52,52,44,46,49,48,47,45,39,33,31, 26,23,22,19,18,20,22,20,18,16,20,22,26,24,20,18,
   22,26,22,24,28,32,36,34,30,26,22,20,18,22,20, 16,14,18,22,26,24,20,16,18,22,24,28,26,22,24],
  [56,31,40,50,52,42,45,50,47,55,50,54,42,35, 27,22,18,14,11,9,10,14,12,16,20,18,22,26,30,34,
   30,36,45,40,36,44,52,48,42,38,44,50,56,64,58, 54,48,44,40,36,42,50,56,60,64,58,52,46,42,52],
  [58,34,43,56,56,44,48,54,53,54,50,48,38,33, 25,21,17,14,14,16,18,22,24,28,26,24,22,26,30,28,
   26,32,36,34,38,44,42,36,32,34,30,26,28,32,36, 32,28,26,30,34,38,32,28,30,36,40,34,30,38,44],
  [59,34,42,57,58,44,48,55,52,54,50,55,48,42, 32,27,23,19,17,15,17,21,26,30,28,32,36,34,38,42,
   46,52,58,50,44,52,60,66,60,54,48,44,40,46,52, 48,42,38,34,40,46,52,44,38,34,38,44,50,42,38],
  [56,31,39,50,51,41,44,47,47,48,43,38,30,27, 21,18,16,14,12,11,12,14,13,15,18,20,18,21,24,28,
   32,28,24,22,26,30,28,24,20,18,16,15,18,22,20, 17,15,18,22,26,24,20,17,15,19,24,28,22,18,16],
  [58,33,43,55,55,43,47,54,50,56,52,60,50,44, 33,29,27,22,23,27,31,29,27,31,35,39,37,33,36,42,
   46,52,62,68,74,66,58,52,60,68,72,64,56,50,44, 52,58,54,48,42,38,46,52,44,38,34,40,36,42,48],
  [60,35,44,56,56,44,49,52,53,56,52,57,49,42, 32,25,20,17,15,14,16,18,20,22,20,22,24,28,26,22,
   20,24,28,32,30,28,32,36,40,38,34,30,34,38,42, 38,32,28,24,22,26,30,34,28,24,28,32,26,22,26],
  [57,32,42,53,54,43,46,51,49,52,48,50,42,34, 26,23,18,15,13,16,20,22,26,24,22,26,28,32,28,26,
   34,44,52,58,52,46,40,48,56,62,58,52,46,40,48, 54,58,50,44,40,46,52,56,50,44,38,42,48,54,46],
  [55,30,38,49,49,40,43,46,45,47,42,40,32,28, 20,17,14,12,10,8,7,8,10,12,16,14,12,14,18,16,
   14,18,22,26,22,18,20,24,28,24,20,16,14,12,16, 14,12,10,14,18,20,16,14,10,8,12,16,20,14,12]
];

// ---------- Neerslagsom ----------
const sumControl = [0.3,0.3,0.4,0.4,0.5,0.6,0.7,0.9,1.0,2.5, 2.8,7.0,8.2,8.4,8.4,8.4,8.7,8.7,8.7,8.7,
  8.7,8.7,8.7,8.7,8.7,8.7,8.7,8.7,8.7,8.7, 8.7,8.7,8.7,8.8,9.8,11.9,13.1,13.3,13.3,13.3,
  13.8,15.1,15.9,16.2,16.2,16.2,16.2,16.2,16.2,16.2, 16.2,16.2,16.5,17.1,17.3,17.3,17.3,17.3,17.4,17.7];
const sumHres = [0.2,0.2,0.3,0.4,0.5,0.6,0.8,1.1,1.1,2.2, 3.0,5.5,7.4,7.5,7.5,7.6,7.9,8.0,8.0,8.0,
  8.1,8.1,8.1,8.1,8.2,8.2,8.2,8.2,8.3,8.3, 8.3,8.3,8.3,8.5,8.7,9.6,13.3,14.0,14.0,14.0];
const sumMedian = [0.4,0.4,0.4,0.5,0.6,0.6,0.7,0.8,0.9,2.0, 2.8,4.6,5.6,5.9,6.0,6.0,6.1,6.1,6.1,6.2,
  6.2,6.2,6.3,6.3,6.6,6.8,7.0,7.3,7.7,8.0, 8.2,8.4,9.0,9.8,10.4,10.5,10.5,10.5,10.5,10.5,
  11.2,11.9,12.4,12.5,12.6,12.8,13.0,13.6,14.0,14.1, 14.8,15.0,15.5,16.3,16.5,16.7,17.2,17.5,17.7,18.0];
const sumMembers = [
  [0.5,0.6,0.6,0.7,0.9,1.0,1.0,1.2,1.5,3.2,4.6,7.8,9.6,9.8, 9.9,9.9,10.0,10.1,10.2,10.5,10.9,11.5,12.4,13.6,15.2,16.8,18.1,19.0,19.9,20.6,
   21.3,22.9,24.8,26.5,28.9,30.1,30.4,30.6,30.8,31.9,33.5,35.2,37.6,40.1,42.6, 43.1,43.2,43.3,43.5,47.8,48.2,48.6,50.1,51.5,52.6,54.9,57.1,58.6,59.0,59.1],
  [0.4,0.4,0.5,0.6,0.7,0.8,0.8,0.9,1.2,2.6,3.5,6.4,8.2,8.5, 8.6,8.6,8.7,8.8,8.8,8.9,9.0,9.2,9.6,10.4,11.2,12.5,13.9,15.0,15.5,16.0,
   16.8,18.4,20.2,22.0,23.1,24.0,24.7,25.4,26.5,28.2,30.4,33.0,35.1,36.3,37.0, 37.4,38.2,38.9,39.1,39.4,40.5,42.8,45.6,47.9,49.8,50.5,50.8,51.0,51.1,51.2],
  [0.4,0.4,0.4,0.5,0.6,0.6,0.7,0.9,1.1,2.2,3.1,5.8,7.4,7.7, 7.7,7.8,7.8,7.8,7.9,8.0,8.1,8.3,8.6,8.9,9.3,10.1,10.9,11.8,12.6,13.4,
   14.2,15.6,16.9,17.5,18.6,21.0,22.7,23.4,24.0,24.9,26.1,27.4,28.6,29.3,29.8, 30.1,30.4,30.9,31.6,32.2,32.6,32.9,33.2,33.5,34.8,36.0,37.5,39.2,40.8,43.0],
  [0.6,0.7,0.8,0.9,1.2,1.3,1.4,1.6,2.1,4.0,5.2,8.3,10.4,10.6, 10.7,10.7,10.8,10.9,11.0,11.1,11.2,11.3,11.4,11.6,11.9,12.3,12.8,13.2,13.6,14.0,
   14.5,15.2,16.4,17.8,20.6,22.4,23.1,23.5,24.8,26.7,27.3,27.6,28.0,28.6,29.1, 29.4,29.6,29.9,30.4,30.9,31.3,32.0,32.6,33.1,34.2,36.0,37.8,38.9,39.6,40.2],
  [0.3,0.3,0.4,0.4,0.5,0.5,0.6,0.7,0.9,1.8,2.5,5.0,6.1,6.3, 6.3,6.3,6.4,6.4,6.4,6.5,6.6,6.7,6.9,7.1,7.4,7.9,8.4,9.0,9.6,10.3,
   11.1,12.4,13.8,15.6,17.9,18.8,19.4,19.9,21.0,22.3,23.6,24.8,25.9,26.6,27.2, 27.8,28.3,28.8,29.2,29.6,30.0,30.5,31.1,31.6,32.0,32.3,32.6,32.8,33.0,33.1],
  [0.5,0.5,0.6,0.6,0.7,0.8,0.9,1.1,1.4,2.9,3.8,6.9,8.0,8.3, 8.3,8.4,8.4,8.5,8.6,8.7,8.7,8.8,8.9,9.0,9.2,9.5,9.9,10.4,10.9,11.5,
   12.4,13.1,13.6,14.2,15.4,16.9,17.6,18.1,18.5,19.2,20.3,21.4,22.1,22.6,23.0, 23.3,23.6,24.1,24.8,25.5,26.1,26.7,27.1,27.4,27.8,28.2,28.6,28.9,29.1,29.2],
  [0.3,0.3,0.3,0.4,0.4,0.5,0.5,0.6,0.8,1.6,2.2,4.3,5.2,5.4, 5.4,5.4,5.5,5.5,5.5,5.6,5.6,5.7,5.8,6.0,6.2,6.6,7.1,7.5,7.9,8.3,
   8.8,9.5,10.6,12.0,13.6,14.8,15.5,15.9,16.4,17.0,17.8,18.4,18.9,19.3,19.6, 19.9,20.2,20.6,21.0,21.4,21.8,22.1,22.4,22.6,22.9,23.2,23.4,23.6,23.8,23.9],
  [0.4,0.4,0.5,0.5,0.6,0.7,0.7,0.8,1.0,2.0,2.7,5.6,6.6,6.8, 6.8,6.9,6.9,6.9,7.0,7.0,7.1,7.1,7.2,7.3,7.4,7.6,7.8,8.1,8.4,8.8,
   9.3,9.8,10.3,10.8,11.6,12.5,13.0,13.3,13.6,14.1,14.7,15.3,15.8,16.2,16.5, 16.7,16.9,17.2,17.5,17.9,18.3,18.6,18.9,19.1,19.3,19.5,19.7,19.8,19.9,20.0],
  [0.3,0.3,0.3,0.3,0.4,0.4,0.4,0.5,0.6,1.3,1.8,3.9,4.6,4.8, 4.8,4.8,4.8,4.9,4.9,4.9,4.9,5.0,5.0,5.1,5.2,5.3,5.5,5.7,5.9,6.1,
   6.4,6.8,7.3,7.9,8.6,9.5,10.2,10.6,10.9,11.3,11.8,12.2,12.6,12.9,13.1, 13.3,13.5,13.7,13.9,14.1,14.4,14.7,14.9,15.1,15.3,15.5,15.7,15.8,15.9,16.0],
  [0.5,0.6,0.6,0.7,0.8,0.9,0.9,1.0,1.2,2.3,2.9,4.8,5.4,5.5, 5.5,5.5,5.5,5.6,5.6,5.6,5.6,5.7,5.7,5.7,5.8,5.8,5.9,6.0,6.1,6.3,
   6.5,6.7,6.9,7.2,7.6,8.1,8.4,8.6,8.8,9.1,9.4,9.7,9.9,10.1,10.3, 10.4,10.5,10.6,10.8,11.0,11.2,11.3,11.4,11.5,11.6,11.7,11.8,11.9,12.0,12.1],
  [0.3,0.3,0.3,0.3,0.3,0.4,0.4,0.4,0.5,1.0,1.4,3.2,3.8,3.9, 3.9,3.9,3.9,3.9,4.0,4.0,4.0,4.0,4.0,4.1,4.1,4.1,4.2,4.2,4.3,4.4,
   4.5,4.6,4.8,5.0,5.3,5.7,6.0,6.2,6.3,6.5,6.7,6.9,7.1,7.2,7.3, 7.4,7.5,7.6,7.7,7.8,7.9,8.0,8.1,8.2,8.3,8.4,8.5,8.6,8.7,8.8],
  [0.4,0.4,0.4,0.4,0.5,0.5,0.5,0.6,0.7,1.2,1.6,2.9,3.3,3.4, 3.4,3.4,3.4,3.4,3.4,3.5,3.5,3.5,3.5,3.5,3.6,3.6,3.6,3.7,3.7,3.8,
   3.9,4.0,4.1,4.2,4.4,4.6,4.7,4.8,4.9,5.0,5.1,5.2,5.3,5.3,5.4, 5.4,5.5,5.5,5.6,5.6,5.7,5.7,5.8,5.8,5.9,5.9,6.0,6.0,6.1,6.1],
  [0.4,0.4,0.5,0.5,0.6,0.6,0.7,0.8,1.0,1.9,2.6,4.4,5.1,5.2, 5.2,5.2,5.3,5.3,5.3,5.4,5.4,5.5,5.6,5.7,5.9,6.2,6.5,6.8,7.0,7.3,
   7.7,8.2,8.8,9.6,10.5,11.6,12.1,12.4,12.6,12.9,13.3,13.7,14.0,14.2,14.3, 14.4,14.5,14.7,14.9,15.1,15.3,15.4,15.6,15.8,16.1,16.4,16.7,17.0,17.2,17.4],
  [0.3,0.3,0.4,0.4,0.5,0.5,0.5,0.6,0.7,1.4,2.0,4.1,4.8,4.9, 4.9,5.0,5.0,5.0,5.0,5.1,5.1,5.1,5.2,5.2,5.3,5.4,5.5,5.6,5.7,5.8,
   6.0,6.2,6.5,6.9,7.4,8.0,8.5,8.8,9.0,9.3,9.7,10.0,10.3,10.5,10.6, 10.7,10.8,10.9,11.1,11.3,11.5,11.7,11.9,12.1,12.3,12.5,12.7,12.9,13.0,13.1],
  [0.5,0.5,0.6,0.6,0.7,0.8,0.8,1.0,1.3,2.6,3.4,6.0,7.1,7.3, 7.3,7.4,7.5,7.5,7.6,7.7,7.8,8.0,8.3,8.7,9.2,9.9,10.8,11.5,12.0,12.4,
   12.9,13.6,14.6,16.0,17.7,19.2,20.2,20.8,21.3,21.9,22.6,23.3,23.9,24.3,24.6, 24.8,25.0,25.2,25.5,25.8,26.0,26.2,26.4,26.6,26.9,27.3,27.7,28.0,28.2,28.3],
  [0.3,0.3,0.3,0.4,0.4,0.4,0.5,0.5,0.6,1.1,1.5,3.4,4.0,4.1, 4.1,4.1,4.1,4.2,4.2,4.2,4.2,4.3,4.3,4.3,4.4,4.4,4.5,4.6,4.7,4.8,
   4.9,5.1,5.4,5.8,6.3,6.9,7.3,7.5,7.7,7.9,8.2,8.4,8.6,8.8,8.9, 9.0,9.1,9.2,9.3,9.4,9.5,9.6,9.7,9.8,9.9,10.0,10.1,10.2,10.3,10.4]
];

// ---------- Sneeuwval (6 uurlijks) ----------
const snowControl = [0,0,0,0,0,0,0,0,0,0, 0,0,0.3,0.2,0,0,0.2,0,0,0, 0,0,0,0,0,0,0,0,0,0,
  0,0,0,0.2,1.0,2.3,0.9,0.1,0,0, 0.5,1.3,0.8,0.3,0,0,0,0,0,0, 0,0,0.3,0.6,0.2,0,0,0,0.1,0.4];
const snowHres = [0,0,0,0,0,0,0,0,0,0, 0,0,0,0,0,0,0.1,0,0,0, 0,0,0,0,0,0,0,0,0,0,
  0,0,0,0,0,0.5,4.7,0.7,0,0];
const snowMedian = [0,0,0,0,0,0,0,0,0,0, 0,0,0,0,0,0,0,0,0,0, 0,0,0,0,0,0,0,0,0,0,
  0,0,0,0.1,0.2,0.3,0.3,0.2,0.1,0.1, 0.1,0.2,0.2,0.2,0.1,0.1,0.1,0.1,0.1,0.1, 0.1,0.1,0.1,0.1,0.1,0.1,0.1,0.1,0.1,0.1];
const snowMembers = [
  [0,0,0,0,0,0,0,0,0,0, 0,0,1.9,0.5,0,0,0.1,0,0,0, 0,0,0,0,0.3,0.1,0,0,0.2,0.6,
   4.9,1.2,0.3,0.5,8.5,1.1,0.2,0,0.3,0.1, 0,0.6,2.6,0.4,0.1,0,0,0.2,0.1,0.5, 0.1,0,0,0.2,0.1,0,4.6,0.3,0,0.1],
  [0,0,0,0,0,0,0,0,0,0, 0,0,0.8,2.8,0.4,0,0,0,0,0, 0,0.2,0.6,0.1,0,0,0.4,1.8,0.3,0,
   0.1,0.3,1.4,5.0,1.2,0.6,9.2,1.5,0.3,0.1, 0.4,1.2,0.3,0,0.5,0.2,0,0.1,0,0, 0.3,0.1,0,0,0.2,0,0,0.4,0.1,0],
  [0.2,0,0,0,0,0,0,0,0,0, 0,0,0.3,1.2,0.2,0,0,0.1,0,0, 0,0,0,0.2,1.1,3.3,0.6,0,0,0.1,
   0.4,1.8,0.5,0.1,0.6,2.1,0.4,0.2,1.4,3.1, 0.7,0.2,6.0,1.4,0.3,0.1,0,0.3,1.2,0.3, 0.1,0,0.2,0.5,0.1,0,0.2,0.8,2.3,0.4],
  [0,0,0,0,0,0,0,0,0,0, 0,0,0.1,0.6,0.1,0,0.2,0.4,0.1,0, 0,0,0,0,0.1,0.5,0.2,0,0.3,0.9,
   0.2,4.9,0.8,0.3,0.1,0.4,1.0,5.5,1.3,0.2, 0,0.1,0.9,0.3,0.2,4.1,0.8,0.2,0,0.1, 0.3,0.7,0.2,0,0.1,0,0,0.1,0.5,4.5],
  [0,0,0,0,0,0,0,0,0,0, 0,0,0.5,1.6,0.3,0,0,0,0,0, 0,0,0,0.3,0.8,0.2,0,0,0,0.4,
   1.2,0.3,0.6,2.2,4.1,1.4,0.5,0.9,3.3,0.6, 0.2,0.4,1.5,5.4,1.2,0.3,0,0.1,0.6,5.0, 1.1,0.2,0,0.1,0.4,0.2,0.1,0,0.2,0.1],
  [0,0,0,0,0,0,0,0,0,0, 0,0,0.2,0.9,0.2,0,0,0,0,0, 0,0,0,0,0,0,0,0.1,1.5,0.3,
   0,0.2,1.9,0.6,1.1,0.3,2.7,0.7,0.2,0.4, 2.9,0.8,0.2,0,0.3,0.6,1.4,0.3,0.1,0, 0.5,4.4,0.6,0.2,0,0.3,0.9,0.2,0,0.2],
  [0,0,0,0,0,0,0,0,0,0, 0,0,0.4,0.2,0,0,0,0,0,0, 0,0,0,0,0,0,0,0,0,0,
   0.1,0.4,0.2,1.5,0.8,0.2,0.5,0.3,0.1,0.8, 0.3,0.1,0.6,1.9,0.5,0.1,0.3,0.7,0.2,0.1, 0.2,0.5,3.3,0.6,0.1,0,0.3,1.0,0.2,0],
  [0,0,0,0,0,0,0,0,0,0, 0,0,0.7,1.1,0.2,0,0,0,0,0, 0,0,0,0,0,0,0,0,0,0.1,
   0.3,0.1,0,0.2,0.9,0.3,0.1,0.6,0.2,0, 0.4,1.3,0.3,0.1,0,0.2,0.5,0.1,0,0.3, 0.1,0,0.2,0.4,0.9,0.2,0,0,0.1,0.3],
  [0,0,0,0,0,0,0,0,0,0, 0,0,0,0.3,0,0,0,0,0,0, 0,0,0,0,0,0,0,0,0,0,
   0,0,0,0.1,0.4,0.2,0.1,0,0.2,0.4, 0.1,0,0.2,0.6,0.2,0,0,0.1,0.2,0.1, 0,0.1,0.2,0,0,0.2,0.4,0.1,0,0],
  [0,0,0,0,0,0,0,0,0,0, 0,0,0.2,0.5,0.1,0,0,0,0,0, 0,0,0,0,0,0.1,0.3,0.1,0,0,
   0,0.2,0.6,0.3,0.7,2.8,0.6,0.2,0.1,0.3, 0.6,0.2,0,0.3,0.8,0.2,0.1,0.4,0.1,0, 0,0.3,0.1,0.2,0.6,0.1,0,0.2,0.4,0.9],
  [0,0,0,0,0,0,0,0,0,0, 0,0,1.1,0.4,0,0,0,0,0,0, 0,0,0,0,0,0,0,0,0,0,
   0,0,0.2,0.8,2.0,0.5,0.3,1.7,0.4,0.1, 0.2,0.6,0.4,0.2,0.1,0,0.2,0.5,0.3,0.1, 0.2,0.1,0,0.3,0.7,0.3,0.1,0,0,0.2],
  [0,0,0,0,0,0,0,0,0,0, 0,0,0,0.1,0,0,0,0,0,0, 0,0,0,0,0,0,0,0,0,0,
   0,0,0,0,0.1,0.3,0.2,0.1,0,0, 0.1,0.2,0.1,0,0,0,0.1,0.2,0.1,0, 0,0,0.1,0,0,0.1,0.2,0,0,0]
];

const subtitle = 'Twente, maandag 14 januari 2019 (Versie ma 12 uur)';

const panels = [
  { title: 'Temperatuur (˚C)', left: 0, top: 0, yMin: -20, yMax: 15, yStep: 5, xMin: -6,
    control: tempControl, hres: tempHres, median: tempMedian, members: tempMembers, zero: true },
  { title: 'Windsnelheid (km/uur)', left: 800, top: 0, yMin: 0, yMax: 40, yStep: 5, xMin: 6,
    control: windControl, hres: windHres, median: windMedian, members: windMembers },
  { title: 'Neerslag (mm, 6 uurlijks)', left: 0, top: 400, yMin: 0, yMax: 10, yStep: 2, xMin: 6,
    control: rainControl, hres: rainHres, median: rainMedian, members: rainMembers },
  { title: 'Windstoten (km/uur)', left: 800, top: 400, yMin: 0, yMax: 100, yStep: 20, xMin: 6,
    control: gustControl, hres: gustHres, median: gustMedian, members: gustMembers },
  { title: 'Neerslagsom (mm)', left: 0, top: 800, yMin: 0, yMax: 60, yStep: 10, xMin: 6,
    control: sumControl, hres: sumHres, median: sumMedian, members: sumMembers },
  { title: 'Sneeuwval (cm, 6 uurlijks)', left: 800, top: 800, yMin: 0, yMax: 10, yStep: 5, xMin: 6,
    control: snowControl, hres: snowHres, median: snowMedian, members: snowMembers }
];

// sanity check on typed series lengths
const problems = [];
panels.forEach(p => {
  if (p.control.length !== 60) problems.push(p.title + ' control ' + p.control.length);
  if (p.median.length !== 60) problems.push(p.title + ' median ' + p.median.length);
  if (p.hres.length !== 40) problems.push(p.title + ' hres ' + p.hres.length);
  p.members.forEach((m, k) => { if (m.length !== 60) problems.push(p.title + ' m' + (k + 1) + ' ' + m.length); });
});
if (problems.length) document.getElementById('dbg').textContent = problems.join(' | ');

function legendItem(color, dash, text) {
  const d = dash ? ' stroke-dasharray="6,3"' : '';
  return '<span><svg width="16" height="6"><line x1="0" y1="3" x2="16" y2="3" stroke="' + color +
    '" stroke-width="2"' + d + '/></svg>' + text + '</span>';
}
const legendHtml = legendItem('#000000', true, 'Controle') +
  legendItem('#ff0000', false, 'Hoge resolutie') +
  legendItem('#a52a2a', true, 'Middelste (P50)') +
  legendItem('#008000', false, 'Verstoorde runs');

const backdrop = {
  id: 'backdrop',
  beforeDraw(chart) {
    const { ctx, chartArea: a, scales: { x } } = chart;
    ctx.save();
    ctx.fillStyle = '#f2f2f2';
    bandStarts.forEach(s => {
      const x1 = Math.max(a.left, x.getPixelForValue(s));
      const x2 = Math.min(a.right, x.getPixelForValue(s + 24));
      if (x2 > x1) ctx.fillRect(x1, a.top, x2 - x1, a.bottom - a.top);
    });
    ctx.restore();
  },
  beforeDatasetsDraw(chart, args, opts) {
    if (!opts.zero) return;
    const { ctx, chartArea: a, scales: { y } } = chart;
    const yy = y.getPixelForValue(0);
    ctx.save();
    ctx.strokeStyle = '#999999';
    ctx.lineWidth = 2;
    ctx.beginPath();
    ctx.moveTo(a.left, yy);
    ctx.lineTo(a.right, yy);
    ctx.stroke();
    ctx.restore();
  }
};

function points(vals) {
  return vals.map((v, k) => ({ x: steps[k], y: v }));
}

Chart.defaults.font.family = '"DejaVu Sans", Verdana, sans-serif';

panels.forEach(p => {
  const div = document.createElement('div');
  div.className = 'panel';
  div.style.left = p.left + 'px';
  div.style.top = p.top + 'px';
  div.innerHTML = '<canvas width="798" height="398"></canvas>' +
    '<div class="title">' + p.title + '</div>' +
    '<div class="sub">' + subtitle + '</div>' +
    '<div class="legend">' + legendHtml + '</div>' +
    '<div class="credit">Bron: ECMWF/KNMI</div>';
  document.getElementById('grid').appendChild(div);

  const datasets = [
    { label: 'Hoge resolutie', data: points(p.hres), borderColor: '#ff0000', borderWidth: 2 },
    { label: 'Controle', data: points(p.control), borderColor: '#000000', borderWidth: 2, borderDash: [6, 3] },
    { label: 'Middelste (P50)', data: points(p.median), borderColor: '#a52a2a', borderWidth: 2, borderDash: [6, 3] }
  ];
  p.members.forEach(m => {
    datasets.push({ label: 'Verstoorde runs', data: points(m), borderColor: 'rgba(0,128,0,0.55)', borderWidth: 1 });
  });

  const yMin = p.yMin;
  new Chart(div.querySelector('canvas'), {
    type: 'line',
    data: { datasets },
    options: {
      responsive: false,
      animation: false,
      events: [],
      layout: { padding: { top: 60, left: 0, right: 0, bottom: 0 } },
      elements: { point: { radius: 0 }, line: { tension: 0, borderJoinStyle: 'round' } },
      plugins: {
        legend: { display: false },
        tooltip: { enabled: false },
        backdrop: { zero: !!p.zero }
      },
      scales: {
        x: {
          type: 'linear', min: p.xMin, max: 364,
          afterBuildTicks(s) { s.ticks = tickSteps.map(v => ({ value: v })); },
          afterFit(s) { s.height = 75.5; },
          ticks: {
            autoSkip: false, maxRotation: 0, minRotation: 0, align: 'start', padding: 0, labelOffset: 1,
            color: '#666666', font: { size: 11, lineHeight: '14px' },
            callback(v) {
              const k = tickSteps.indexOf(v);
              return k < 0 ? '' : [dayNames[k], dayDates[k]];
            }
          },
          grid: { drawOnChartArea: false, drawTicks: true, tickLength: 8, color: '#ccd6eb' },
          border: { display: true, color: '#ccd6eb' }
        },
        y: {
          position: 'left', min: p.yMin, max: p.yMax,
          afterFit(s) { s.width = 55; },
          ticks: { stepSize: p.yStep, padding: 22, color: '#666666', font: { size: 11 } },
          grid: { drawTicks: false, color: c => (c.tick && c.tick.value === yMin) ? 'rgba(0,0,0,0)' : '#e6e6e6' },
          border: { display: false }
        },
        y2: {
          position: 'right', min: p.yMin, max: p.yMax,
          afterFit(s) { s.width = 49; },
          ticks: { stepSize: p.yStep, padding: 15, color: '#666666', font: { size: 11 } },
          grid: { display: false, drawTicks: false },
          border: { display: false }
        }
      }
    },
    plugins: [backdrop]
  });
});
</script>
</body>
</html>
